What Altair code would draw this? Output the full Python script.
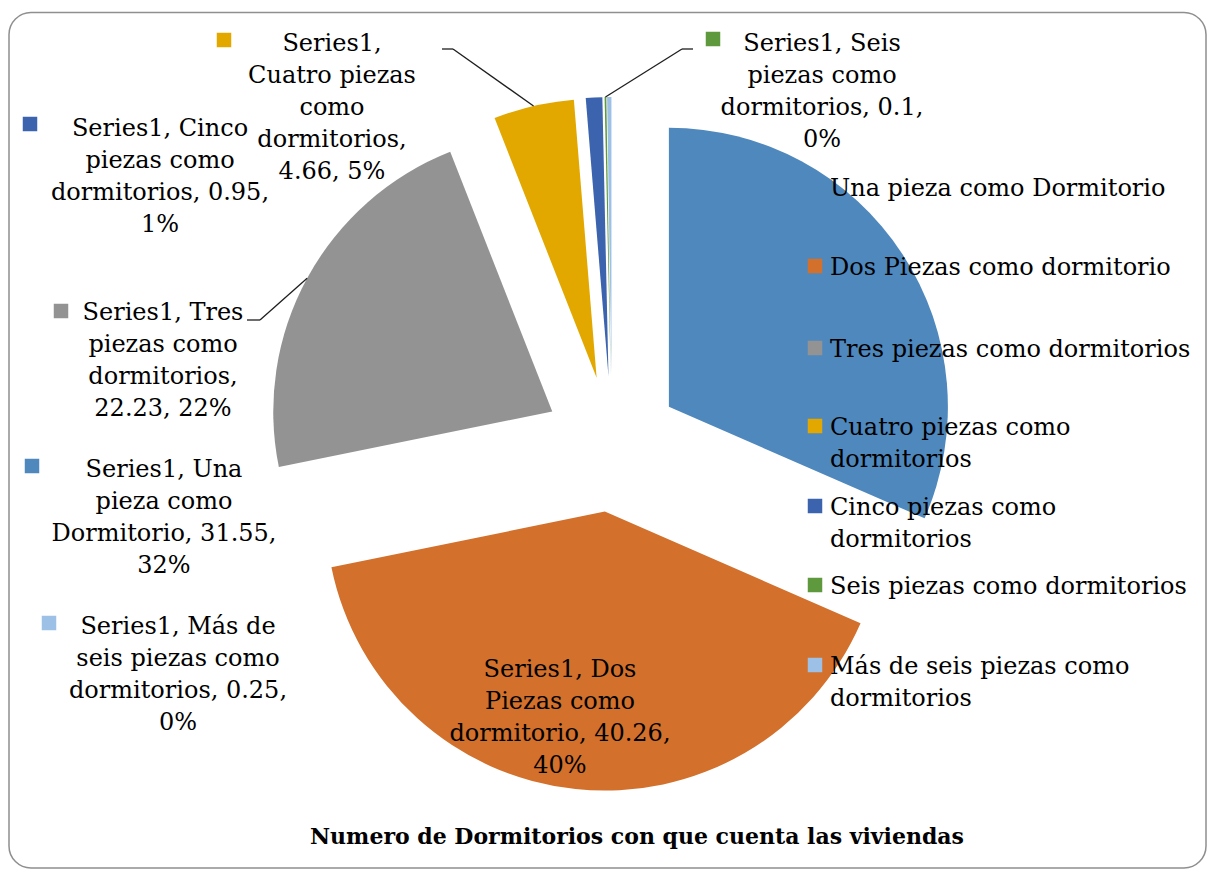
import altair as alt

# ---------------- data ----------------
series_name = "Series1"
categories = [
    "Una pieza como Dormitorio",
    "Dos Piezas como dormitorio",
    "Tres piezas como dormitorios",
    "Cuatro piezas como dormitorios",
    "Cinco piezas como dormitorios",
    "Seis piezas como dormitorios",
    "Más de seis piezas como dormitorios",
]
values = [31.55, 40.26, 22.23, 4.66, 0.95, 0.1, 0.25]
colors = ["#4F88BD", "#D2702C", "#939393", "#E2A800", "#3B63AE", "#5F993D", "#9DC1E6"]
title_text = "Numero de Dormitorios con que cuenta las viviendas"

# ---------------- layout (page coordinates) ----------------
OX, OY = 8, 8                      # page margin -> view origin
CX, CY = 612 - OX, 444 - OY        # pie centre before explosion
R, D = 279, 68                     # radius, explosion distance
FS, LH = 24, 32                    # font size, line height
BASE = 8.75                        # first-line centre -> baseline

label_breaks = [[2, 2, 2, 1], [2, 2, 2, 1], [2, 2, 1, 2], [1, 2, 1, 1, 2],
                [2, 2, 2, 1], [2, 2, 2, 1], [3, 3, 2, 1]]
label_pos = [(164, 468), (560, 668), (163, 311), (332, 42), (160, 127), (822, 42), (178, 625)]
marker_pos = [(32, 466), None, (61, 311), (224, 40), (30, 124), (713, 39), (49, 623)]
leaders = [None, None, ((260, 320), 247), ((453, 49), 442), None, ((682, 49), 693), None]
legend_breaks = [[4], [4], [4], [3, 1], [3, 1], [4], [5, 1]]
legend_y = [187, 266, 348, 426, 506, 585, 665]
legend_mk_x, legend_tx_x = 815, 830


def wrap(text, breaks):
    words = text.split(" ")
    out, i = [], 0
    for n in breaks:
        out.append(" ".join(words[i:i + n]))
        i += n
    return "|".join(out)


total = sum(values)
records = []
for i, (cat, v, col) in enumerate(zip(categories, values, colors)):
    pct = f"{v / total:.0%}"
    rec = {
        "order": i,
        "cat": cat,
        "value": v,
        "color": col,
        "label": wrap(f"{series_name}, {cat}, {v:g}, {pct}", label_breaks[i]),
        "lab_x": label_pos[i][0] - OX,
        "lab_y": label_pos[i][1] + BASE - OY,
        "leg": wrap(cat, legend_breaks[i]),
        "leg_mk_y": legend_y[i] - OY,
        "leg_tx_y": legend_y[i] + BASE - OY,
        "mk_x": None, "mk_y": None,
        "elb_x": None, "elb_y": None, "end_x": None,
    }
    if marker_pos[i]:
        rec["mk_x"] = marker_pos[i][0] - OX
        rec["mk_y"] = marker_pos[i][1] - OY
    if leaders[i]:
        (ex, ey), endx = leaders[i]
        rec["elb_x"] = ex - OX
        rec["elb_y"] = ey - OY
        rec["end_x"] = endx - OX
    records.append(rec)

base = (
    alt.Chart(alt.Data(values=records))
    .transform_joinaggregate(total="sum(value)")
    .transform_window(cum="sum(value)", sort=[alt.SortField("order")], frame=[None, 0])
    .transform_calculate(
        th1="2*PI*datum.cum/datum.total",
        th0="2*PI*(datum.cum-datum.value)/datum.total",
    )
    .transform_calculate(mid="(datum.th0+datum.th1)/2")
    .transform_calculate(
        cx=f"{CX} + {D}*sin(datum.mid)",
        cy=f"{CY} - {D}*cos(datum.mid)",
    )
    .transform_calculate(
        px=f"datum.cx + {R}*sin(datum.mid)",
        py=f"datum.cy - {R}*cos(datum.mid)",
        lines="split(datum.label, '|')",
        leglines="split(datum.leg, '|')",
    )
)

def X(f):
    return alt.X(f, scale=None, axis=None)

def Y(f):
    return alt.Y(f, scale=None, axis=None)

border = alt.Chart(alt.Data(values=[{}])).mark_rect(
    filled=False, stroke="#8f8f8f", strokeWidth=1.5, cornerRadius=22
).encode(
    x=alt.value(1), x2=alt.value(1198),
    y=alt.value(12.5 - OY), y2=alt.value(860),
)

arcs = base.mark_arc(radius=R).encode(
    x=X("cx:Q"), y=Y("cy:Q"),
    theta=alt.Theta("th0:Q", scale=None, stack=False),
    theta2=alt.Theta2("th1:Q"),
    color=alt.Color("color:N", scale=None),
)

lead_base = base.transform_filter("datum.elb_x != null")
leader_diag = lead_base.mark_rule(color="#1e1e1e", strokeWidth=1.3).encode(
    x=X("px:Q"), y=Y("py:Q"), x2="elb_x:Q", y2="elb_y:Q"
)
leader_horiz = lead_base.mark_rule(color="#1e1e1e", strokeWidth=1.3).encode(
    x=X("elb_x:Q"), x2="end_x:Q", y=Y("elb_y:Q")
)

label_markers = base.transform_filter("datum.mk_x != null").mark_square(
    size=210, opacity=1
).encode(x=X("mk_x:Q"), y=Y("mk_y:Q"), color=alt.Color("color:N", scale=None))

label_text = base.mark_text(
    font="DejaVu Serif", fontSize=FS, lineHeight=LH, align="center",
    baseline="alphabetic", color="#000000"
).encode(x=X("lab_x:Q"), y=Y("lab_y:Q"), text="lines:N")

legend_markers = base.mark_square(size=210, opacity=1).encode(
    x=alt.value(legend_mk_x - OX), y=Y("leg_mk_y:Q"),
    color=alt.Color("color:N", scale=None),
)
legend_text = base.mark_text(
    font="DejaVu Serif", fontSize=FS, lineHeight=LH, align="left",
    baseline="alphabetic", color="#000000"
).encode(x=alt.value(legend_tx_x - OX), y=Y("leg_tx_y:Q"), text="leglines:N")

title = alt.Chart(alt.Data(values=[{"t": title_text}])).mark_text(
    font="DejaVu Serif", fontSize=22, fontWeight="bold", align="center",
    baseline="alphabetic", color="#000000"
).encode(x=alt.value(637 - OX), y=alt.value(843.5 - OY), text="t:N")

chart = alt.layer(
    border, arcs, leader_diag, leader_horiz, label_markers, label_text,
    legend_markers, legend_text, title
).properties(
    width=1199, height=861,
    autosize=alt.AutoSizeParams(type="none"), padding=0,
).configure_view(strokeWidth=0)

chart.save("out.html", embed_options={"renderer": "svg", "actions": False})
